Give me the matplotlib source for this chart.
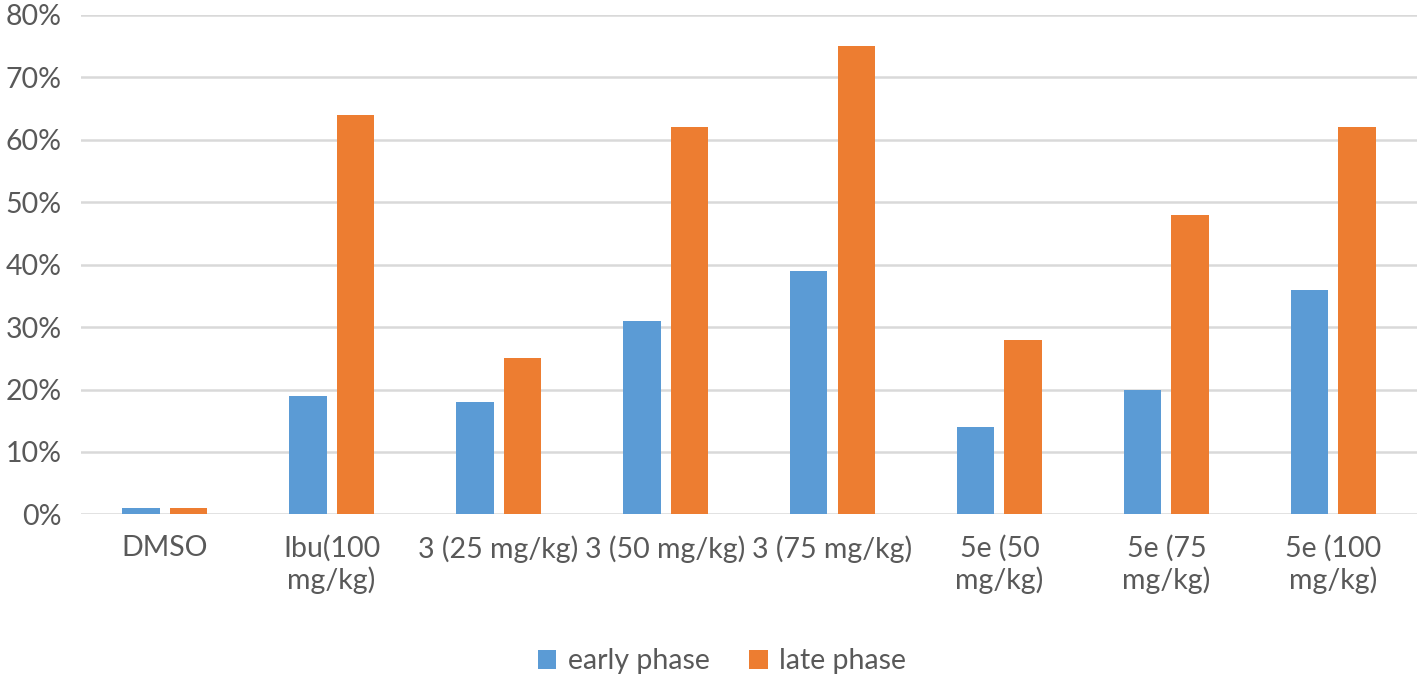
import numpy as np
import matplotlib.pyplot as plt
from matplotlib.ticker import PercentFormatter

categories = ["DMSO", "Ibu(100\nmg/kg)", "3 (25 mg/kg)", "3 (50 mg/kg)", "3 (75 mg/kg)",
              "5e (50\nmg/kg)", "5e (75\nmg/kg)", "5e (100\nmg/kg)"]
early_phase = [1, 19, 18, 31, 39, 14, 20, 36]
late_phase = [1, 64, 25, 62, 75, 28, 48, 62]

BLUE = "#5B9BD5"
ORANGE = "#ED7D31"
TEXT = "#595959"

plt.rcParams["font.family"] = ["Lato", "DejaVu Sans"]

fig = plt.figure(figsize=(14.24, 6.76), dpi=100)
ax = fig.add_axes([0.057, 0.239, 0.938, 0.739])

x = np.arange(len(categories))
w = 0.226
off = 0.143
ax.bar(x - off, early_phase, w, color=BLUE, label="early phase", zorder=3)
ax.bar(x + off, late_phase, w, color=ORANGE, label="late phase", zorder=3)

ax.set_xlim(-0.5, len(categories) - 0.5)
ax.set_ylim(0, 80)
ax.set_yticks(range(0, 81, 10))
ax.yaxis.set_major_formatter(PercentFormatter(decimals=0))
ax.grid(True, axis="y", color="#D9D9D9", linewidth=1.8, zorder=0)
ax.set_xticks(x)
ax.set_xticklabels(categories, linespacing=1.2)
ax.tick_params(axis="both", length=0, labelsize=20.5, colors=TEXT)
ax.tick_params(axis="x", pad=15)
ax.tick_params(axis="y", pad=14)
for s in ax.spines.values():
    s.set_visible(False)

fig.legend(loc="center", bbox_to_anchor=(0.507, 0.022), ncol=2, frameon=False,
           fontsize=20.5, labelcolor=TEXT, handlelength=0.65, handleheight=0.65,
           handletextpad=0.4, columnspacing=1.4)

fig.savefig("out.png", dpi=100)
